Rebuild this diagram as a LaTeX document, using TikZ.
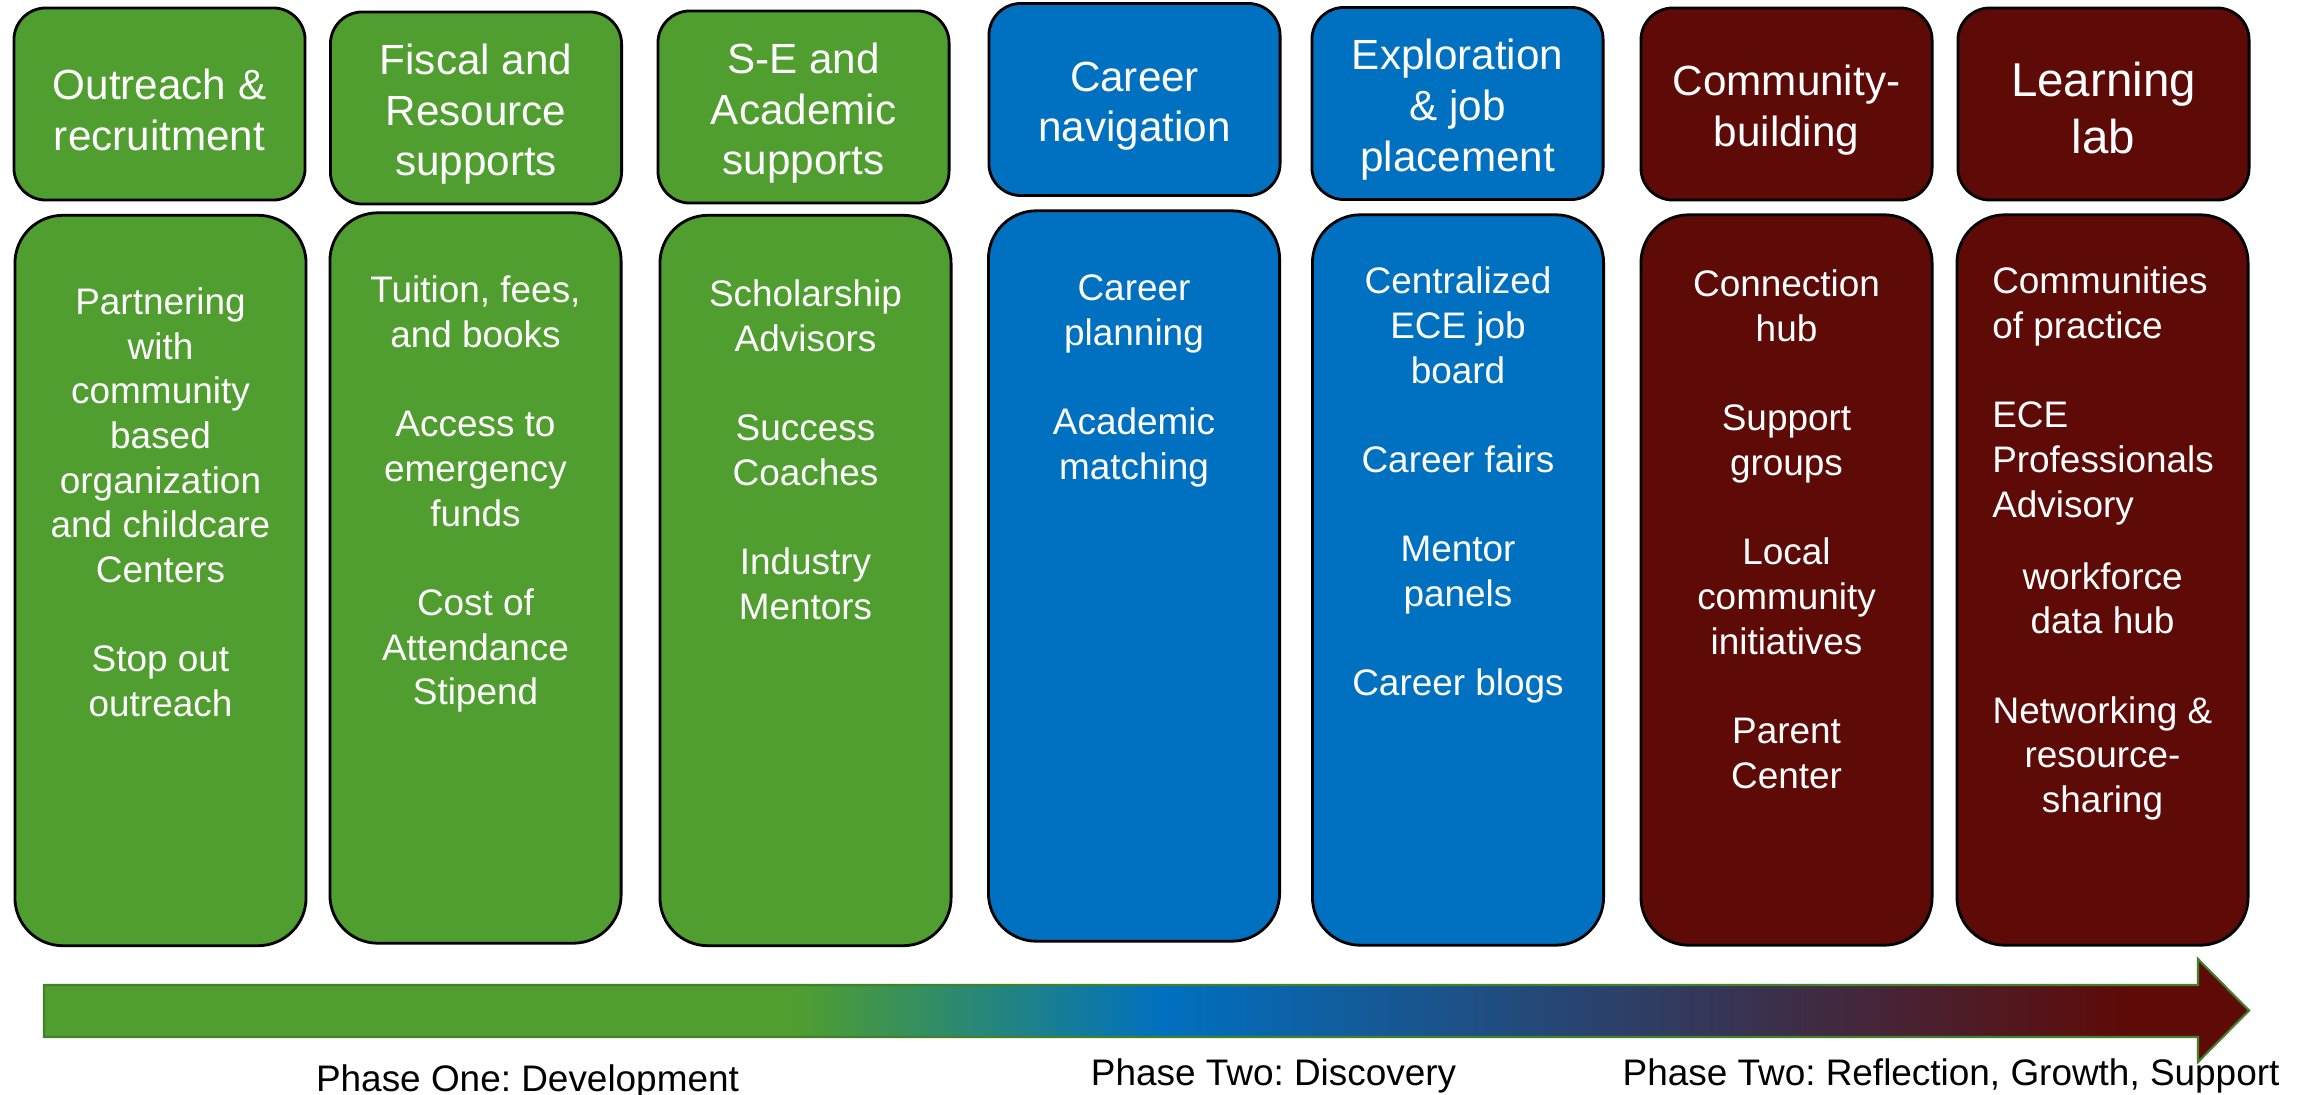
\documentclass[tikz,border=0pt]{standalone}
\usepackage{fontspec}
\setmainfont{Liberation Sans}
\usepackage{xcolor}
\usepackage{tikz}
\usetikzlibrary{positioning}
\frenchspacing

\definecolor{phasegreen}{HTML}{509E2F}
\definecolor{phaseblue}{HTML}{0070C0}
\definecolor{phasered}{HTML}{5E0A07}
\definecolor{arrowedge}{HTML}{41812A}
\pgfdeclarehorizontalshading{phaseflow}{100bp}{color(0bp)=(phasegreen); color(42bp)=(phasegreen); color(50.4bp)=(phaseblue); color(72.3bp)=(phasered); color(100bp)=(phasered)}
\newcommand{\headstrut}{\rule{0pt}{12.2pt}}

\begin{document}
\begin{tikzpicture}[x=0.01cm, y=-0.01cm,
  head/.style={rectangle, rounded corners=0.32cm, draw=black, line width=0.8pt, text=white, align=center, minimum width=2.91cm, minimum height=1.92cm, font=\fontsize{12}{14.4}\selectfont},
  panel/.style={rectangle, rounded corners=0.48cm, draw=black, line width=0.8pt, minimum width=2.91cm, minimum height=7.30cm},
  items/.style={text=white, align=center, inner sep=0pt, font=\fontsize{10.5}{12.7}\selectfont},
  phase/.style={anchor=base, font=\fontsize{10.5}{12.7}\selectfont}]
\useasboundingbox (0,0) rectangle (2313,1094);

\node (outreach) [head, fill=phasegreen] at (159.5,104) {\headstrut Outreach \&\\recruitment};
\node (fiscal) [head, fill=phasegreen] at (476,108) {\headstrut Fiscal and\\Resource\\supports};
\node (se) [head, fill=phasegreen] at (803.5,107) {\headstrut S-E and\\Academic\\supports};
\node (career) [head, fill=phaseblue] at (1134.5,99.5) {\headstrut Career\\navigation};
\node (explore) [head, fill=phaseblue] at (1457.5,103.5) {\headstrut Exploration\\\& job\\placement};
\node (community) [head, fill=phasered] at (1786.5,104) {\headstrut Community-\\building};
\node (lab) [head, fill=phasered, font=\fontsize{13.5}{16.2}\selectfont] at (2103.5,104) {\headstrut Learning\\lab};

\node (outreachbox) [panel, fill=phasegreen] at (160.5,580.5) {};
\node (fiscalbox) [panel, fill=phasegreen] at (475.5,578) {};
\node (sebox) [panel, fill=phasegreen] at (805.5,580.5) {};
\node (careerbox) [panel, fill=phaseblue] at (1134,576) {};
\node (explorebox) [panel, fill=phaseblue] at (1458,580) {};
\node (communitybox) [panel, fill=phasered] at (1786.5,580) {};
\node (labbox) [panel, fill=phasered] at (2102.5,580) {};

\node (outreachtxt) [items, below=0.73cm of outreachbox.north] {Partnering\\with\\community\\based\\organization\\and childcare\\Centers\\[12.7pt]Stop out\\outreach};
\node (fiscaltxt) [items, below=0.64cm of fiscalbox.north] {Tuition, fees,\\and books\\[12.7pt]Access to\\emergency\\funds\\[12.7pt]Cost of\\Attendance\\Stipend};
\node (setxt) [items, below=0.65cm of sebox.north] {Scholarship\\Advisors\\[12.7pt]Success\\Coaches\\[12.7pt]Industry\\Mentors};
\node (careertxt) [items, below=0.65cm of careerbox.north] {Career\\planning\\[12.7pt]Academic\\matching};
\node (exploretxt) [items, below=0.53cm of explorebox.north] {Centralized\\ECE job\\board\\[12.7pt]Career fairs\\[12.7pt]Mentor\\panels\\[12.7pt]Career blogs};
\node (communitytxt) [items, below=0.56cm of communitybox.north] {Connection\\hub\\[12.7pt]Support\\groups\\[12.7pt]Local\\community\\initiatives\\[12.7pt]Parent\\Center};
\node (labtxt) [items, align=left, anchor=north west, below right=0.53cm and 0.36cm of labbox.north west] {Communities\\of practice\\[12.7pt]ECE\\Professionals\\Advisory};
\node (labmore) [items, below=3.48cm of labbox.north] {workforce\\data hub\\[12.7pt]Networking \&\\resource-\\sharing};

\shadedraw[shading=phaseflow, draw=arrowedge, line width=0.6pt] (44,985) -- (2198,985) -- (2198,959) -- (2249,1010.5) -- (2198,1062) -- (2198,1037) -- (44,1037) -- cycle;

\node (develop) [phase] at (527.5,1091) {Phase One: Development};
\node (discover) [phase] at (1273.5,1085) {Phase Two: Discovery};
\node (reflect) [phase] at (1951,1085) {Phase Two: Reflection, Growth, Support};
\end{tikzpicture}
\end{document}
